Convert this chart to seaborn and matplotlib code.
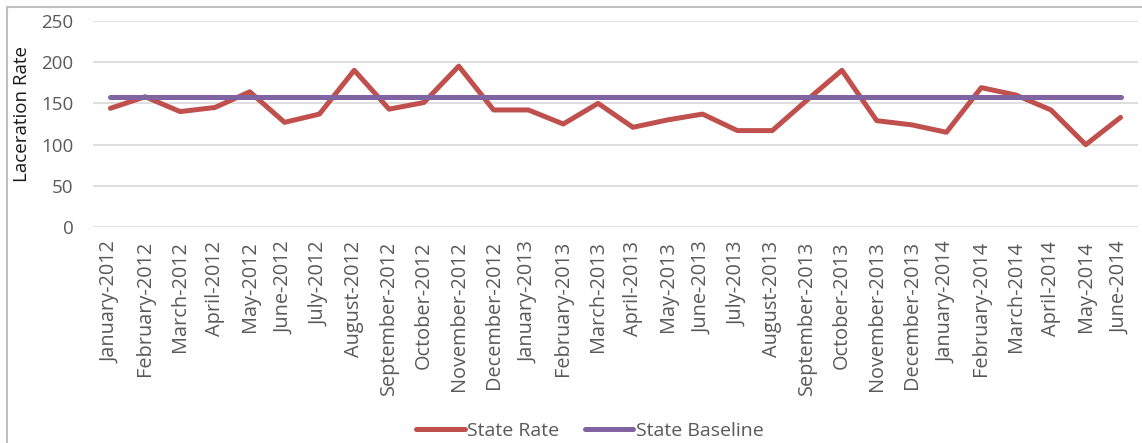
import pandas as pd
import numpy as np
import matplotlib
matplotlib.use("Agg")
import matplotlib.pyplot as plt
import seaborn as sns
from matplotlib.lines import Line2D


# DATA
months = ["January-2012", "February-2012", "March-2012", "April-2012", "May-2012",
          "June-2012", "July-2012", "August-2012", "September-2012", "October-2012",
          "November-2012", "December-2012", "January-2013", "February-2013", "March-2013",
          "April-2013", "May-2013", "June-2013", "July-2013", "August-2013",
          "September-2013", "October-2013", "November-2013", "December-2013", "January-2014",
          "February-2014", "March-2014", "April-2014", "May-2014", "June-2014"]

state_rate = [144, 158, 140, 145, 164, 127, 137, 190, 143, 151,
              195, 142, 142, 125, 150, 121, 130, 137, 117, 117,
              154, 190, 129, 124, 115, 169, 160, 142, 100, 133]

state_baseline = 158

y_ticks = [0, 50, 100, 150, 200, 250]


# BUILD LONG TABLE FOR SEABORN
df = pd.DataFrame({"pos": np.arange(len(months)), "month": months,
                   "State Rate": state_rate,
                   "State Baseline": [state_baseline] * len(months)})
long_df = df.melt(id_vars=["pos", "month"], var_name="series", value_name="rate")


sns.set_style("white")
plt.rcParams["font.family"] = ["Open Sans", "DejaVu Sans"]
text_grey = "#595959"
fs = 13.5

fig = plt.figure(figsize=(11.42, 4.43), dpi=100)
ax = fig.add_axes([93 / 1142, 1 - 227.3 / 443, 1045 / 1142, 206.6 / 443])

sns.lineplot(data=long_df, x="pos", y="rate", hue="series",
             hue_order=["State Rate", "State Baseline"],
             palette={"State Rate": "#C0504D", "State Baseline": "#8064A2"},
             linewidth=3.6, ax=ax, legend=False)

ax.set_xlim(-0.5, len(months) - 0.5)
ax.set_ylim(0, 250)
ax.set_yticks(y_ticks)
ax.set_xticks(df["pos"])
ax.set_xticklabels(months, rotation=90)
ax.tick_params(axis="both", length=0, labelsize=fs, colors=text_grey)
ax.tick_params(axis="x", pad=10, labelsize=14.3)
ax.tick_params(axis="y", pad=14)
ax.grid(axis="y", color="#D9D9D9", linewidth=1.2)
ax.set_axisbelow(True)
for s in ax.spines.values():
    s.set_visible(False)

ax.set_xlabel("")
ax.set_ylabel("Laceration Rate", fontsize=fs, color="#1a1a1a")
ax.yaxis.set_label_coords(-0.059, 0.55)

# LEGEND AT BOTTOM
handles = [Line2D([], [], color="#C0504D", lw=3.6, solid_capstyle="round"),
           Line2D([], [], color="#8064A2", lw=3.6, solid_capstyle="round")]
fig.legend(handles, ["State Rate", "State Baseline"], loc="center",
           bbox_to_anchor=(590 / 1142, 1 - 431 / 443), ncol=2, frameon=False,
           handlelength=2.5, handletextpad=0.12, columnspacing=1.3,
           prop={"size": 14}, labelcolor=text_grey)

# CHART AREA BORDER (left and top visible)
fig.add_artist(Line2D([6.5 / 1142, 6.5 / 1142], [0, 1 - 7 / 443], color="#BFBFBF",
                      lw=1.5, transform=fig.transFigure))
fig.add_artist(Line2D([6.5 / 1142, 1], [1 - 7 / 443, 1 - 7 / 443], color="#BFBFBF",
                      lw=1.5, transform=fig.transFigure))

fig.savefig("out.png", dpi=100)
